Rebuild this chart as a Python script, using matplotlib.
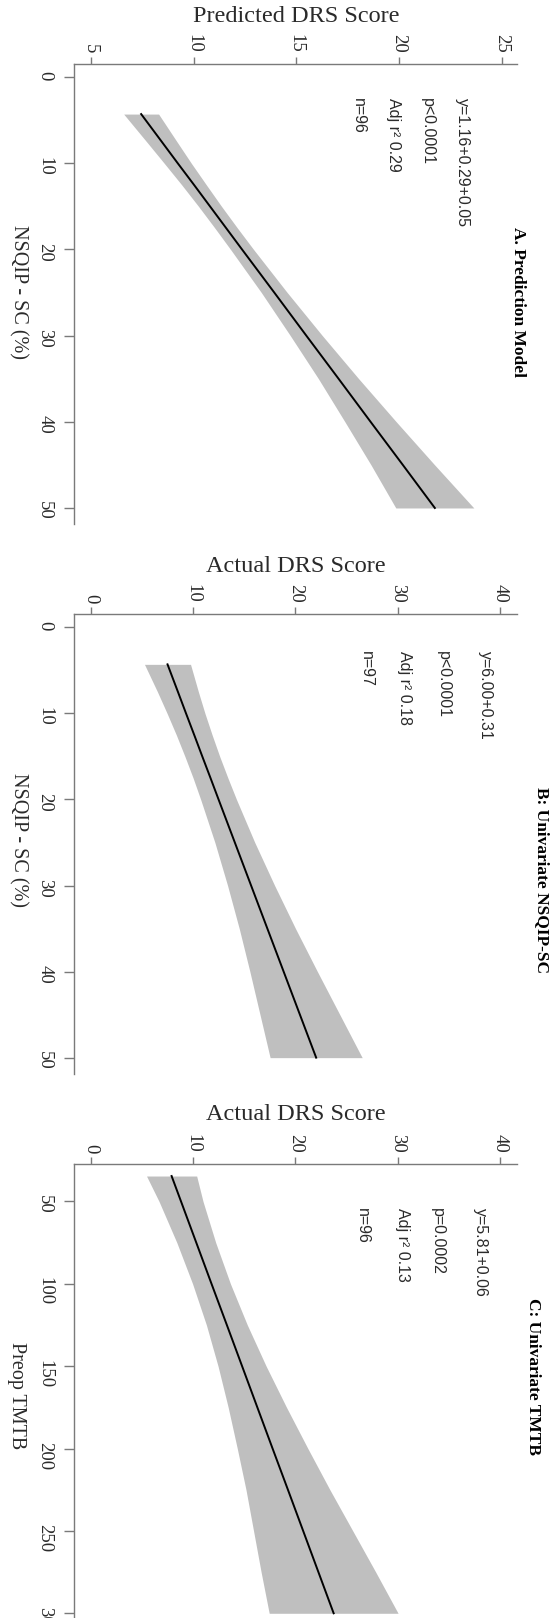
import matplotlib.pyplot as plt
import numpy as np

# ---- data read off the (rotated) reference ----
# panel A: prediction model, predicted DRS vs NSQIP-SC
nsqip_a = [4.3, 7.5, 10, 12.5, 15, 17.5, 20, 25, 30, 35, 40, 45, 50]
fit_a = [7.45, 8.45, 9.23, 10.02, 10.8, 11.58, 12.36, 13.93, 15.49, 17.06, 18.62, 20.19, 21.75]
lo_a = [6.6, 7.71, 8.57, 9.42, 10.24, 11.03, 11.8, 13.3, 14.71, 16.08, 17.37, 18.64, 19.85]
hi_a = [8.3, 9.19, 9.89, 10.62, 11.36, 12.13, 12.92, 14.56, 16.27, 18.04, 19.87, 21.74, 23.65]

# panel B: univariate NSQIP-SC, actual DRS
nsqip_b = [4.3, 7.5, 10, 12.5, 15, 17.5, 20, 25, 30, 35, 40, 45, 50]
fit_b = [7.5, 8.52, 9.31, 10.11, 10.9, 11.7, 12.49, 14.08, 15.67, 17.26, 18.85, 20.44, 22.03]
lo_b = [5.25, 6.52, 7.46, 8.36, 9.2, 10.0, 10.74, 12.13, 13.37, 14.51, 15.55, 16.54, 17.53]
hi_b = [9.75, 10.52, 11.16, 11.86, 12.6, 13.4, 14.24, 16.03, 17.97, 20.01, 22.15, 24.34, 26.53]

# panel C: univariate preop TMTB, actual DRS
tmtb_c = [34.6, 50, 75, 100, 125, 150, 175, 200, 225, 250, 275, 300]
fit_c = [7.9, 8.82, 10.31, 11.8, 13.3, 14.79, 16.28, 17.77, 19.27, 20.76, 22.25, 23.74]
lo_c = [5.45, 6.67, 8.41, 9.95, 11.3, 12.44, 13.43, 14.32, 15.17, 15.91, 16.65, 17.44]
hi_c = [10.35, 10.97, 12.21, 13.65, 15.3, 17.14, 19.13, 21.22, 23.37, 25.61, 27.85, 30.04]

titles = ["A. Prediction Model", "B: Univariate NSQIP-SC", "C: Univariate TMTB"]
score_labels = ["Predicted DRS Score", "Actual DRS Score", "Actual DRS Score"]
pred_labels = ["NSQIP - SC (%)", "NSQIP - SC (%)", "Preop TMTB"]
stats = [
    ["y=1.16+0.29+0.05", "p<0.0001", "Adj r\u00b2 0.29", "n=96"],
    ["y=6.00+0.31", "p<0.0001", "Adj r\u00b2 0.18", "n=97"],
    ["y=5.81+0.06", "p=0.0002", "Adj r\u00b2 0.13", "n=96"],
]
score_ticks = [[5, 10, 15, 20, 25], [0, 10, 20, 30, 40], [0, 10, 20, 30, 40]]
pred_ticks = [[0, 10, 20, 30, 40, 50], [0, 10, 20, 30, 40, 50],
              [50, 100, 150, 200, 250, 300]]


def main():
    plt.rcParams['font.family'] = ['Liberation Serif', 'DejaVu Serif']
    W, H = 551, 1618
    fig = plt.figure(figsize=(W / 100, H / 100), dpi=100)

    def fx(px):
        return px / W

    def fy(py):
        return 1 - py / H

    axis_col = '#7a7a7a'
    text_col = '#2a2a2a'
    band_col = '#bfbfbf'

    xs = [nsqip_a, nsqip_b, tmtb_c]
    fits = [fit_a, fit_b, fit_c]
    los = [lo_a, lo_b, lo_c]
    his = [hi_a, hi_b, hi_c]

    # layout (pixels in the final picture)
    tops = [64, 614, 1164]
    ax_h = 460
    score_lims = [(4.18, 25.77), (-1.64, 41.7), (-1.64, 41.7)]
    pred_lims = [(-1.51, 51.86), (-1.55, 51.9), (27.3, 306.5)]
    stat_x = [[23.12, 21.37, 19.76, 18.01], [38.6, 34.5, 30.7, 26.9],
              [38.1, 33.9, 30.5, 26.6]]
    stat_top = [2.4, 2.7, 54]
    title_pos = [(518, 302), (542, 880), (533, 1377)]
    hlabel_y = [16, 566, 1115]
    vlabel_pos = [(18, 292), (18, 840), (16, 1396)]

    for i in range(3):
        ax = fig.add_axes([fx(74), fy(tops[i] + ax_h), fx(443.4), ax_h / H])
        # rotated regression plot: score runs across, predictor runs down
        ax.fill_betweenx(xs[i], los[i], his[i], color=band_col, lw=0)
        ax.plot(fits[i], xs[i], color='black', lw=1.4)

        ax.set_xlim(*score_lims[i])
        ax.set_ylim(pred_lims[i][1], pred_lims[i][0])

        for s in ['right', 'bottom']:
            ax.spines[s].set_visible(False)
        for s in ['top', 'left']:
            ax.spines[s].set_color(axis_col)
            ax.spines[s].set_linewidth(1.0)

        ax.xaxis.tick_top()
        ax.set_xticks(score_ticks[i])
        ax.set_yticks(pred_ticks[i])
        ax.tick_params(axis='x', direction='out', length=5, width=1.0,
                       pad=3, colors=axis_col, labelcolor=text_col,
                       labelsize=13.5, labelrotation=-90)
        ax.tick_params(axis='y', direction='out', length=7, width=1.0,
                       pad=8, colors=axis_col, labelcolor=text_col,
                       labelsize=13.5, labelrotation=-90)

        # regression statistics
        for s_txt, sx in zip(stats[i], stat_x[i]):
            ax.text(sx, stat_top[i], s_txt, rotation=-90, ha='center',
                    va='top', fontsize=11.5, color=text_col,
                    family=['Liberation Sans', 'DejaVu Sans'])

        fig.text(fx(title_pos[i][0]), fy(title_pos[i][1]), titles[i],
                 rotation=-90, ha='center', va='center', fontsize=12.5,
                 fontweight='bold', color='black')
        fig.text(fx(296), fy(hlabel_y[i]), score_labels[i], ha='center',
                 va='center', fontsize=17.5, color=text_col)
        fig.text(fx(vlabel_pos[i][0]), fy(vlabel_pos[i][1]), pred_labels[i],
                 rotation=-90, ha='center', va='center', fontsize=14.5,
                 color=text_col)

    fig.savefig('out.png', dpi=100, facecolor='white')


if __name__ == "__main__":
    main()
